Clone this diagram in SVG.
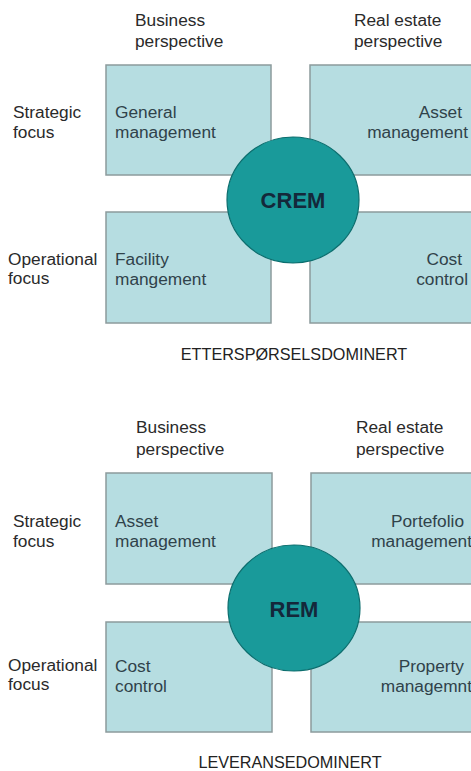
<svg xmlns="http://www.w3.org/2000/svg" width="471" height="771" viewBox="0 0 471 771">
<style>
text{font-family:"Liberation Sans",Arial,sans-serif;font-size:17.3px;fill:#2a2a2a}
.box{fill:#b6dde1;stroke:#8c9b9c;stroke-width:1.5}
.circ{fill:#199a9a;stroke:#0c6e6e;stroke-width:1.2}
.bt{fill:#30424a}
.end{text-anchor:end}
.core{font-weight:bold;font-size:22px;fill:#14283a;text-anchor:middle}
.cap{font-size:16.2px;fill:#222}
</style>
<rect width="471" height="771" fill="#ffffff"/>
<g id="top">
<g id="t-headers">
<text x="135" y="26">Business</text><text x="135" y="47">perspective</text>
<text x="354" y="26">Real estate</text><text x="354" y="47">perspective</text>
<text x="13" y="118">Strategic</text><text x="13" y="138">focus</text>
<text x="8" y="265">Operational</text><text x="8" y="284">focus</text>
</g>
<g id="t-general"><rect class="box" x="106" y="65" width="165" height="110"/><text class="bt" x="115" y="118">General</text><text class="bt" x="115" y="138">management</text></g>
<g id="t-asset"><rect class="box" x="310" y="65" width="165" height="110"/><text class="bt end" x="462" y="118">Asset</text><text class="bt end" x="468" y="138">management</text></g>
<g id="t-facility"><rect class="box" x="106" y="212" width="165" height="111"/><text class="bt" x="115" y="265">Facility</text><text class="bt" x="115" y="285">mangement</text></g>
<g id="t-cost"><rect class="box" x="310" y="212" width="165" height="111"/><text class="bt end" x="462" y="265">Cost</text><text class="bt end" x="468" y="285">control</text></g>
<g id="t-crem"><ellipse class="circ" cx="293" cy="200" rx="66" ry="63"/><text class="core" x="293" y="208">CREM</text></g>
<text class="cap" x="294" y="360" text-anchor="middle">ETTERSPØRSELSDOMINERT</text>
</g>
<g id="bottom">
<g id="b-headers">
<text x="136" y="433">Business</text><text x="136" y="455">perspective</text>
<text x="356" y="433">Real estate</text><text x="356" y="455">perspective</text>
<text x="13" y="527">Strategic</text><text x="13" y="547">focus</text>
<text x="8" y="671">Operational</text><text x="8" y="690">focus</text>
</g>
<g id="b-asset"><rect class="box" x="106" y="473" width="166" height="111"/><text class="bt" x="115" y="527">Asset</text><text class="bt" x="115" y="547">management</text></g>
<g id="b-portefolio"><rect class="box" x="311" y="473" width="165" height="111"/><text class="bt end" x="464" y="527">Portefolio</text><text class="bt end" x="472" y="547">management</text></g>
<g id="b-cost"><rect class="box" x="106" y="622" width="166" height="110"/><text class="bt" x="115" y="672">Cost</text><text class="bt" x="115" y="692">control</text></g>
<g id="b-property"><rect class="box" x="311" y="622" width="165" height="110"/><text class="bt end" x="464" y="672">Property</text><text class="bt end" x="472" y="692">managemnt</text></g>
<g id="b-rem"><ellipse class="circ" cx="294" cy="608" rx="66" ry="63"/><text class="core" x="294" y="617">REM</text></g>
<text class="cap" x="290" y="768" text-anchor="middle">LEVERANSEDOMINERT</text>
</g>
<g id="connectors"/>
</svg>
